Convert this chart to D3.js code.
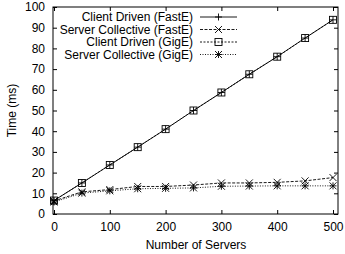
<!DOCTYPE html>
<html>
<head>
<meta charset="utf-8">
<script src="https://cdn.jsdelivr.net/npm/d3@7"></script>
<style>
  html, body { margin: 0; background: #fff; overflow: hidden; }
  svg { display: block; width: 100vw; height: 100vh; }
  text { font-family: "Liberation Sans", Arial, sans-serif; fill: #000; }
</style>
</head>
<body>
<svg id="chart"></svg>
<script>
// data
const servers = [0, 50, 100, 150, 200, 250, 300, 350, 400, 450, 500];
const clientFastE = [6.5, 15, 23.7, 32.3, 41, 50, 58.7, 67.5, 76, 85, 93.8];
const serverFastE = [6.3, 10.7, 11.8, 13.3, 13.3, 14, 15, 15, 15.3, 16, 17.6];
const clientGigE = [6.5, 15, 23.7, 32.3, 41, 50, 58.7, 67.5, 76, 85, 93.8];
const serverGigE = [5.8, 10.1, 11.2, 12.2, 12.4, 12.6, 13.4, 13.5, 13.6, 13.6, 13.6];
const xTicks = [0, 100, 200, 300, 400, 500];
const yTicks = [0, 10, 20, 30, 40, 50, 60, 70, 80, 90, 100];
const seriesNames = ["Client Driven (FastE)", "Server Collective (FastE)", "Client Driven (GigE)", "Server Collective (GigE)"];

const width = 345, height = 254;
const margin = { top: 7, right: 7, bottom: 40, left: 53 };
const innerWidth = width - margin.left - margin.right;
const innerHeight = height - margin.top - margin.bottom;

const svg = d3.select("#chart")
  .attr("viewBox", `0 0 ${width} ${height}`)
  .attr("preserveAspectRatio", "xMidYMid meet");
const g = svg.append("g").attr("transform", `translate(${margin.left},${margin.top})`);

const x = d3.scaleLinear().domain([0, 500]).range([1, innerWidth - 5]);
const y = d3.scaleLinear().domain([0, 100]).range([innerHeight, 0]);

// frame
g.append("rect")
  .attr("width", innerWidth).attr("height", innerHeight)
  .attr("fill", "none").attr("stroke", "#000").attr("stroke-width", 1);

// axes, ticks inward, mirrored
const fs = "12px";
g.append("g").attr("transform", `translate(0,${innerHeight})`)
  .call(d3.axisBottom(x).tickValues(xTicks).tickSize(-4).tickPadding(8))
  .call(a => a.select(".domain").remove())
  .selectAll("text").style("font-size", fs);
g.append("g")
  .call(d3.axisTop(x).tickValues(xTicks).tickSize(-4).tickFormat(""))
  .call(a => a.select(".domain").remove());
g.append("g")
  .call(d3.axisLeft(y).tickValues(yTicks).tickSize(-4).tickPadding(8))
  .call(a => a.select(".domain").remove())
  .selectAll("text").style("font-size", fs);
g.append("g").attr("transform", `translate(${innerWidth},0)`)
  .call(d3.axisRight(y).tickValues(yTicks).tickSize(-4).tickFormat(""))
  .call(a => a.select(".domain").remove());

// axis labels
svg.append("text")
  .attr("x", 196).attr("y", 249)
  .attr("text-anchor", "middle").style("font-size", fs)
  .text("Number of Servers");
svg.append("text")
  .attr("transform", `translate(16,${margin.top + innerHeight / 2}) rotate(-90)`)
  .attr("text-anchor", "middle").style("font-size", fs)
  .text("Time (ms)");

// markers
function marker(sel, type, cx, cy) {
  const s = 3.5;
  const m = sel.append("g").attr("transform", `translate(${cx},${cy})`)
    .attr("stroke", "#000").attr("stroke-width", 0.9).attr("fill", "none");
  if (type === "plus") {
    m.append("path").attr("d", `M${-s},0H${s}M0,${-s}V${s}`);
  } else if (type === "cross") {
    m.append("path").attr("d", `M${-s},${-s}L${s},${s}M${-s},${s}L${s},${-s}`);
  } else if (type === "square") {
    m.append("rect").attr("x", -s).attr("y", -s).attr("width", 2 * s).attr("height", 2 * s);
  } else if (type === "star") {
    m.append("path").attr("d", `M${-s},0H${s}M0,${-s}V${s}M${-s},${-s}L${s},${s}M${-s},${s}L${s},${-s}`);
  }
}

const series = [
  { name: seriesNames[0], values: clientFastE, dash: null, mark: "plus" },
  { name: seriesNames[1], values: serverFastE, dash: "3,1.5", mark: "cross" },
  { name: seriesNames[2], values: clientGigE, dash: "2,1.5", mark: "square" },
  { name: seriesNames[3], values: serverGigE, dash: "1,1.5", mark: "star" }
];

const line = d3.line().x((d, i) => x(servers[i])).y(d => y(d));

series.forEach(s => {
  g.append("path")
    .datum(s.values)
    .attr("d", line)
    .attr("fill", "none")
    .attr("stroke", "#000")
    .attr("stroke-width", 0.9)
    .attr("stroke-dasharray", s.dash);
  s.values.forEach((v, i) => marker(g, s.mark, x(servers[i]), y(v)));
});

// legend
const legend = g.append("g");
series.forEach((s, i) => {
  const ly = 10 + i * 12.5;
  legend.append("text")
    .attr("x", 140).attr("y", ly).attr("dy", "0.35em")
    .attr("text-anchor", "end").style("font-size", fs)
    .text(s.name);
  legend.append("line")
    .attr("x1", 147).attr("x2", 184).attr("y1", ly).attr("y2", ly)
    .attr("stroke", "#000").attr("stroke-width", 0.9)
    .attr("stroke-dasharray", s.dash);
  marker(legend, s.mark, 165.5, ly);
});
</script>
</body>
</html>
